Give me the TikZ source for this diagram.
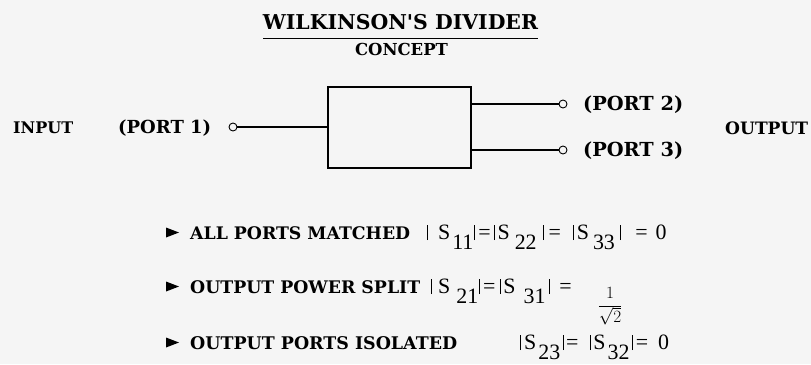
\documentclass[tikz,border=0pt]{standalone}
\usepackage{fontspec}
\usepackage{graphicx}
\setmainfont{Liberation Serif}
\newfontfamily\slab{DejaVu Serif}
\newcommand\Sub[1]{\raisebox{-10bp}{#1}}
\newcommand\fitw[2]{\resizebox{#1}{!}{\slab\bfseries #2}}
\newcommand\mbar{\rule[-1bp]{0.9bp}{15bp}}
\newcommand\kk[1]{\kern#1bp}
\definecolor{bg}{RGB}{245,245,245}
\begin{document}
\begin{tikzpicture}[x=1bp,y=-1bp,
  lbl/.style={inner sep=0pt, anchor=base west},
  mth/.style={inner sep=0pt, anchor=base west, font=\fontsize{22}{22}\selectfont},
  portc/.style={circle, draw, line width=0.9bp, minimum size=8bp, inner sep=0pt, fill=bg},
  wire/.style={line width=1.3bp},
  bul/.style={fill=black}]
\fill[bg] (0,0) rectangle (811,364);
\useasboundingbox (0,0) rectangle (811,364);
% title
\node[inner sep=0pt, anchor=base] (title) at (400.5,29) {\fitw{275bp}{WILKINSON'S DIVIDER}};
\draw[line width=1bp] (263,38) -- (538,38);
\node[inner sep=0pt, anchor=base] (concept) at (401.5,55) {\fitw{93bp}{CONCEPT}};
% block
\node[draw, line width=1.3bp, minimum width=143bp, minimum height=81bp, inner sep=0pt] (box) at (399.5,127.5) {};
\node[portc] (p1) at (233,127) {};
\node[portc] (p2) at (563,104) {};
\node[portc] (p3) at (563,150) {};
\draw[wire] (p1.east) -- (box.west |- p1);
\draw[wire] (box.east |- p2) -- (p2.west);
\draw[wire] (box.east |- p3) -- (p3.west);
% port labels
\node[lbl] (in) at (13,133) {\fitw{60bp}{INPUT}};
\node[lbl] (l1) at (118,133) {\fitw{93bp}{(PORT 1)}};
\node[lbl] (l2) at (583,110) {\fitw{100bp}{(PORT 2)}};
\node[lbl] (l3) at (583,156) {\fitw{100bp}{(PORT 3)}};
\node[lbl] (out) at (725,134) {\fitw{83bp}{OUTPUT}};
% bullets
\fill[bul] (166,227.5) -- (179,232.5) -- (166,237.5) -- cycle;
\fill[bul] (166,281.5) -- (179,286.5) -- (166,291.5) -- cycle;
\fill[bul] (166,337.5) -- (179,342.5) -- (166,347.5) -- cycle;
\node[lbl] (b1) at (190,239) {\fitw{220bp}{ALL PORTS MATCHED}};
\node[lbl] (b2) at (190,293) {\fitw{230bp}{OUTPUT POWER SPLIT}};
\node[lbl] (b3) at (190,349) {\fitw{267bp}{OUTPUT PORTS ISOLATED}};
\node[mth] (m1) at (427,239) {\mbar\kk{10}S\kk{2}\Sub{11}\kk{1}\mbar\kk{3}=\kk{3.5}\mbar\kk{2.5}S\kk{5}\Sub{22}\kk{6.5}\mbar\kk{4.5}=\kk{12.5}\mbar\kk{2.5}S\kk{4}\Sub{33}\kk{5.5}\mbar\kk{14}=\kk{8}0};
\node[mth] (m2) at (431,293) {\mbar\kk{6}S\kk{6}\Sub{21}\kk{1}\mbar\kk{3}=\kk{4.5}\mbar\kk{2.5}S\kk{8}\Sub{31}\kk{4}\mbar\kk{9}=\kk{26}\raisebox{-17bp}{\fontsize{19}{19}\selectfont$\displaystyle\frac{1}{\sqrt{2}}$}};
\node[mth] (m3) at (520,349) {\mbar\kk{3}S\kk{2}\Sub{23}\kk{2.5}\mbar\kk{2.5}=\kk{11.5}\mbar\kk{2.5}S\kk{2}\Sub{32}\kk{2.5}\mbar\kk{3}=\kk{10}0};
\end{tikzpicture}
\end{document}
